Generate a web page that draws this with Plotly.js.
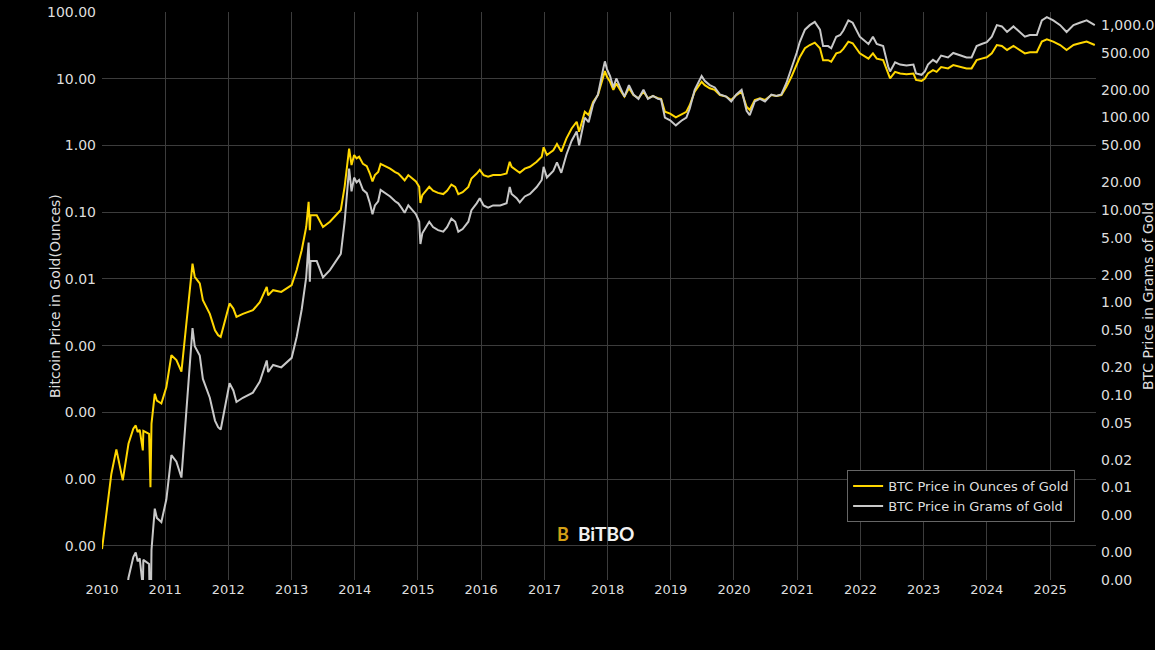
<!DOCTYPE html>
<html>
<head>
<meta charset="utf-8">
<script src="https://cdn.plot.ly/plotly-3.0.1.min.js"></script>
<style>
html,body{margin:0;padding:0;background:#000;}
#chart{width:1155px;height:650px;}
</style>
</head>
<body>
<div id="chart"></div>
<script>
const dates = [
"2010-01-01","2010-02-24","2010-03-25","2010-05-01","2010-06-03","2010-07-01","2010-07-15","2010-07-26","2010-08-07","2010-08-25",
"2010-08-28","2010-09-30","2010-10-08","2010-10-14","2010-11-02","2010-11-14","2010-12-10","2011-01-08","2011-02-06","2011-03-07",
"2011-04-05","2011-04-16","2011-05-15","2011-06-08","2011-06-21","2011-07-20","2011-08-07","2011-09-16","2011-10-16","2011-11-03",
"2011-11-18","2011-12-02","2011-12-20","2012-01-08","2012-01-30","2012-02-17","2012-03-25","2012-05-22","2012-07-01","2012-08-10",
"2012-08-18","2012-09-16","2012-11-02","2013-01-01","2013-01-30","2013-02-28","2013-03-26","2013-04-09","2013-04-16","2013-04-20",
"2013-05-26","2013-07-01","2013-08-10","2013-09-16","2013-10-12","2013-11-03",
"2013-11-29","2013-12-13","2013-12-28","2014-01-11","2014-01-26","2014-02-17","2014-03-11","2014-03-29","2014-04-13","2014-04-27",
"2014-05-16","2014-05-30","2014-06-25","2014-07-24","2014-08-22","2014-09-09","2014-09-27","2014-10-16","2014-11-06","2014-11-24",
"2014-12-20","2015-01-08","2015-01-15","2015-01-26","2015-02-17","2015-03-07","2015-03-29","2015-04-27","2015-05-27","2015-06-18",
"2015-07-13","2015-08-04","2015-08-22","2015-09-16","2015-10-19","2015-11-06","2015-12-06","2015-12-24","2016-01-15","2016-02-10",
"2016-03-10","2016-04-20","2016-05-27","2016-06-14","2016-06-25","2016-07-24","2016-08-11","2016-09-09","2016-10-09","2016-11-17",
"2016-12-16","2016-12-27","2017-01-15","2017-02-21","2017-03-14","2017-04-08","2017-05-08","2017-06-07","2017-07-06","2017-07-20",
"2017-08-22","2017-09-13","2017-10-09","2017-11-06","2017-12-06",
"2017-12-16","2017-12-28","2018-01-15","2018-02-03","2018-02-20","2018-03-21",
"2018-04-08","2018-05-04","2018-05-30","2018-06-28","2018-07-27","2018-08-22","2018-09-20","2018-10-19","2018-11-06","2018-11-28",
"2018-12-28","2019-01-30","2019-03-03","2019-04-01","2019-04-20","2019-05-19","2019-06-28","2019-07-16","2019-08-14","2019-09-12",
"2019-10-12","2019-11-17","2019-12-16","2020-01-15","2020-02-14","2020-03-14","2020-04-01","2020-04-30","2020-05-30","2020-06-28",
"2020-08-04","2020-09-02","2020-10-01","2020-10-30","2020-11-28","2020-12-28","2021-01-15","2021-02-14","2021-03-14","2021-04-12",
"2021-05-12","2021-05-30","2021-06-28","2021-07-16","2021-08-14","2021-09-06","2021-09-24","2021-10-23","2021-11-17","2021-12-28",
"2022-02-16","2022-03-14","2022-04-05","2022-05-12","2022-06-10","2022-06-21","2022-07-20","2022-08-18","2022-09-24","2022-11-03",
"2022-11-18","2022-12-20","2023-01-08","2023-01-26","2023-02-24","2023-03-17","2023-04-12","2023-05-22","2023-06-21","2023-07-31",
"2023-09-06","2023-10-05","2023-11-03","2023-12-02","2024-01-01","2024-01-30","2024-02-28","2024-03-28","2024-04-27","2024-06-03",
"2024-07-09","2024-08-08","2024-09-06","2024-10-16","2024-11-14","2024-12-13","2025-01-19","2025-02-28","2025-04-06","2025-05-16",
"2025-06-21","2025-07-31","2025-09-16"
];

const ounces = [
9.0e-7,1.2e-5,2.8e-5,9.6e-6,3.4e-5,5.7e-5,6.4e-5,5.1e-5,5.5e-5,2.7e-5,
5.3e-5,4.8e-5,7.6e-6,6.8e-5,1.9e-4,1.5e-4,1.36e-4,2.4e-4,7.2e-4,6.1e-4,
4.1e-4,7.6e-4,4.8e-3,0.017,0.0108,0.0086,0.0048,0.003,0.0017,0.00144,
0.00136,0.0019,0.003,0.0043,0.0036,0.0027,0.003,0.0034,0.0045,0.0076,
0.0057,0.0068,0.0064,0.0081,0.0136,0.027,0.060,0.143,0.054,0.09,
0.09,0.06,0.072,0.09,0.108,0.24,
0.90,0.51,0.72,0.64,0.68,0.53,0.49,0.38,0.29,0.36,
0.40,0.53,0.49,0.45,0.40,0.38,0.34,0.30,0.36,0.33,
0.29,0.24,0.138,0.18,0.21,0.24,0.21,0.195,0.187,0.21,
0.26,0.24,0.187,0.20,0.24,0.32,0.38,0.43,0.36,0.34,
0.36,0.36,0.38,0.57,0.48,0.43,0.39,0.45,0.48,0.57,
0.68,0.94,0.72,0.85,1.05,0.81,1.28,1.80,2.27,1.61,
3.2,2.86,4.5,5.7,10.7,
13,10.7,9.0,6.8,8.5,6.4,
5.4,7.2,5.7,5.1,6.4,5.1,5.5,5.1,5.0,3.2,
3.0,2.64,2.96,3.2,4.0,6.4,9.0,8.0,7.2,6.8,
5.7,5.4,4.8,5.7,6.4,3.8,3.4,4.8,5.1,4.8,
5.7,5.5,5.7,7.6,10.7,16,21,28.6,32,34.7,
28.6,19,19,18,24,25,28,36,34,24,
20,24,20,19,11.4,10.1,12.7,12,11.7,12,
9.6,9.3,10.1,12,13.5,12.7,15,14.3,16,15,
14.3,14.3,19,20,21,24,32,31,27,31,
27,24,25,25,36,39,36,32,27,32,
34,36,32
];

const grams = [
2.8e-5,3.73e-4,8.7e-4,3.0e-4,1.06e-3,1.77e-3,1.99e-3,1.59e-3,1.71e-3,8.4e-4,
1.65e-3,1.49e-3,2.36e-4,2.11e-3,5.9e-3,4.67e-3,4.23e-3,7.46e-3,0.0224,0.019,
0.0128,0.0236,0.149,0.529,0.336,0.267,0.149,0.0933,0.0529,0.0448,
0.0423,0.0591,0.0933,0.134,0.112,0.084,0.0933,0.106,0.14,0.236,
0.177,0.211,0.199,0.252,0.423,0.84,1.87,4.45,1.68,2.8,
2.8,1.87,2.24,2.8,3.36,7.46,
28.0,15.9,22.4,19.9,21.1,16.5,15.2,11.8,9.0,11.2,
12.4,16.5,15.2,14.0,12.4,11.8,10.6,9.33,11.2,10.3,
9.0,7.46,4.29,5.6,6.53,7.46,6.53,6.06,5.82,6.53,
8.09,7.46,5.82,6.22,7.46,9.95,11.8,13.4,11.2,10.6,
11.2,11.2,11.8,17.7,14.9,13.4,12.1,14.0,14.9,17.7,
21.1,29.2,22.4,26.4,32.7,25.2,39.8,56,70.6,50.1,
99.5,88.9,140,177,333,
404,333,280,211,264,199,
168,224,177,159,199,159,171,159,156,99.5,
93.3,82.1,92.1,99.5,124,199,280,249,224,211,
177,168,149,177,199,118,106,149,159,149,
177,171,177,236,333,498,653,889,995,1079,
889,591,591,560,746,778,871,1120,1057,746,
622,746,622,591,355,314,395,373,364,373,
299,289,314,373,420,395,467,445,498,467,
445,445,591,622,653,746,995,964,840,964,
840,746,778,778,1120,1213,1120,995,840,995,
1057,1120,995
];

const leftTicks = [1e-6,1e-5,1e-4,1e-3,0.01,0.1,1,10,100];
const leftTickText = ["0.00","0.00","0.00","0.00","0.01","0.10","1.00","10.00","100.00"];
const rightTicks = [0.001,0.002,0.005,0.01,0.02,0.05,0.1,0.2,0.5,1,2,5,10,20,50,100,200,500,1000];
const rightTickText = ["0.00","0.00","0.00","0.01","0.02","0.05","0.10","0.20","0.50","1.00","2.00","5.00",
  "10.00","20.00","50.00","100.00","200.00","500.00","1,000.00"];

const seriesNames = ["BTC Price in Ounces of Gold","BTC Price in Grams of Gold"];
const leftTitle = "Bitcoin Price in Gold(Ounces)";
const rightTitle = "BTC Price in Grams of Gold";

const FONT = "DejaVu Sans, Verdana, sans-serif";
const TXT = "#dedede";

const traces = [
  {x: dates, y: ounces, name: seriesNames[0], type: "scatter", mode: "lines",
   line: {color: "#FFD700", width: 2}, yaxis: "y"},
  {x: dates, y: grams, name: seriesNames[1], type: "scatter", mode: "lines",
   line: {color: "#C8C8C8", width: 2}, yaxis: "y2"}
];

const layout = {
  width: 1155, height: 650,
  paper_bgcolor: "#000", plot_bgcolor: "#000",
  margin: {l: 102, r: 59, t: 12, b: 70, autoexpand: false},
  font: {family: FONT, color: TXT, size: 14},
  showlegend: true,
  legend: {x: 0.979, xanchor: "right", y: 0.102, yanchor: "bottom",
    bgcolor: "#000", bordercolor: "#666", borderwidth: 1, itemwidth: 30,
    font: {size: 13, color: TXT, family: FONT}, tracegroupgap: 0},
  xaxis: {type: "date", range: ["2010-01-01", "2025-09-23"], dtick: "M12", tickformat: "%Y",
    tick0: "2010-01-01",
    showgrid: true, gridcolor: "#3c3c3c", gridwidth: 1, zeroline: false, showline: false,
    ticks: "", tickfont: {size: 13, color: TXT}},
  yaxis: {type: "log", range: [-6.51, 2.0], tickvals: leftTicks, ticktext: leftTickText,
    showgrid: true, gridcolor: "#3c3c3c", gridwidth: 1, zeroline: false, showline: false,
    ticks: "", ticklabelstandoff: 5, tickfont: {size: 14, color: TXT}},
  yaxis2: {type: "log", range: [-3, 3.14], overlaying: "y", side: "right",
    tickvals: rightTicks, ticktext: rightTickText, showgrid: false, zeroline: false, showline: false,
    ticks: "", ticklabelstandoff: 4, tickfont: {size: 14, color: TXT}},
  annotations: [
    {text: leftTitle, xref: "paper", yref: "paper", x: -0.0473, y: 0.5, xanchor: "center", yanchor: "middle",
     textangle: -90, showarrow: false, font: {size: 14, color: TXT, family: FONT}},
    {text: rightTitle, xref: "paper", yref: "paper", x: 1.0523, y: 0.5, xanchor: "center", yanchor: "middle",
     textangle: -90, showarrow: false, font: {size: 14, color: TXT, family: FONT}},
    {text: "<b>BiTBO</b>", xref: "paper", yref: "paper", x: 0.507, y: 0.081, xanchor: "center", yanchor: "middle",
     showarrow: false, font: {size: 19, color: "#f2f2f2", family: "Lato, Open Sans, sans-serif"}},
    {text: "<b>B</b>", xref: "paper", yref: "paper", x: 0.4633, y: 0.081, xanchor: "center", yanchor: "middle",
     showarrow: false, font: {size: 18, color: "#d4a017", family: "Lato, Open Sans, sans-serif"}}
  ]
};

Plotly.newPlot("chart", traces, layout, {displayModeBar: false, staticPlot: true});
</script>
</body>
</html>
